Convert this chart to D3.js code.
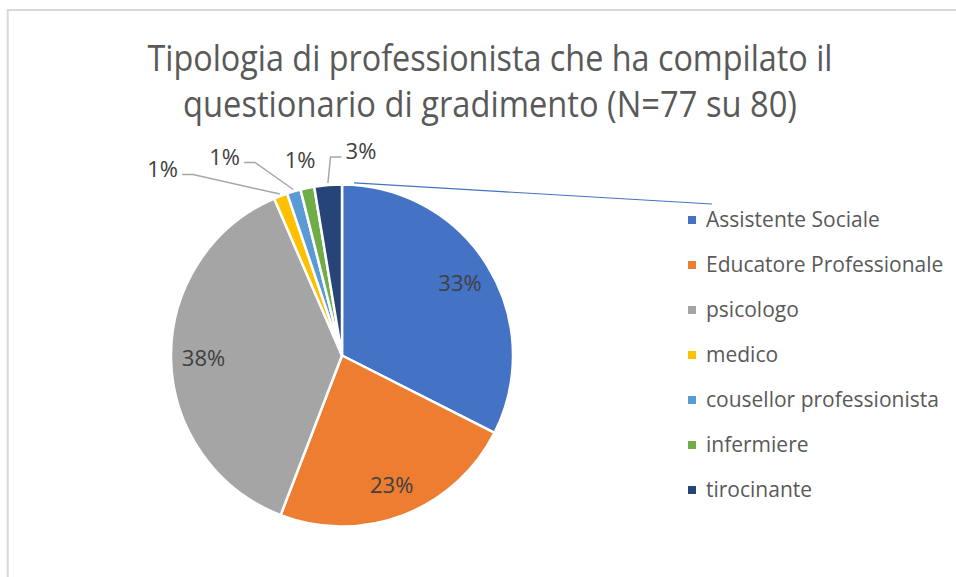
<!DOCTYPE html>
<html>
<head>
<meta charset="utf-8">
<script src="https://cdn.jsdelivr.net/npm/d3@7"></script>
<style>
  body { margin: 0; background: #fff; }
  text { font-family: "Open Sans", sans-serif; }
</style>
</head>
<body>
<svg id="chart" width="956" height="577"></svg>
<script>
// data
const titleLines = ['Tipologia di professionista che ha compilato il', 'questionario di gradimento (N=77 su 80)']
const categories = ['Assistente Sociale', 'Educatore Professionale', 'psicologo', 'medico', 'cousellor professionista', 'infermiere', 'tirocinante']
const counts = [25, 18, 29, 1, 1, 1, 2]
const pctLabels = ['33%', '23%', '38%', '1%', '1%', '1%', '3%']
const colors = ['#4472c4', '#ed7d31', '#a5a5a5', '#ffc000', '#5b9bd5', '#70ad47', '#264478']

const svg = d3.select('#chart'),
    width = +svg.attr('width'),
    height = +svg.attr('height');

// chart frame
svg.append('rect')
    .attr('x', 7.7).attr('y', 10)
    .attr('width', width + 20).attr('height', height + 20)
    .attr('fill', 'none').attr('stroke', '#d9d9d9').attr('stroke-width', 2)

// title (squeezed horizontally to the reference widths)
const titleWidths = [685, 614]
svg.append('g').selectAll('text')
    .data(titleLines)
    .enter().append('text')
      .attr('x', 490)
      .attr('y', (d, i) => 71 + i * 46)
      .attr('text-anchor', 'middle')
      .attr('font-size', 37)
      .attr('fill', '#595959')
      .attr('textLength', (d, i) => titleWidths[i])
      .attr('lengthAdjust', 'spacingAndGlyphs')
      .text(d => d)

const cx = 342, cy = 355.5, r = 171

const pie = d3.pie().sort(null).value(d => d)
const arcs = pie(counts)
const arc = d3.arc().innerRadius(0).outerRadius(r)
const inner = d3.arc().innerRadius(r * 0.81).outerRadius(r * 0.81)
const rim = d3.arc().innerRadius(r + 2).outerRadius(r + 2)

const g = svg.append('g').attr('transform', `translate(${cx},${cy})`)

g.selectAll('path.slice')
    .data(arcs)
    .enter().append('path')
      .attr('class', 'slice')
      .attr('d', arc)
      .attr('fill', (d, i) => colors[i])
      .attr('stroke', '#fff')
      .attr('stroke-width', 2.5)
      .attr('stroke-linejoin', 'round')

// stray leader line from the top of the pie toward the legend
g.append('line')
    .attr('x1', rim.centroid({startAngle: 0.07, endAngle: 0.07})[0])
    .attr('y1', rim.centroid({startAngle: 0.07, endAngle: 0.07})[1])
    .attr('x2', 370).attr('y2', -151.5)
    .attr('stroke', '#4472c4').attr('stroke-width', 1.2)

// labels inside the big slices, outside (with leaders) for the small ones
const outside = {3: [-179.5, -186.5], 4: [-117.5, -198.5], 5: [-42, -195.5], 6: [19, -204]}

arcs.forEach((d, i) => {
  let pos = outside[i] || inner.centroid(d)
  if (outside[i]) {
    const a = rim.centroid(d)
    const dist = Math.hypot(a[0] - pos[0], a[1] - pos[1])
    if (dist > 35) {
      const side = pos[0] < a[0] ? 1 : -1
      g.append('polyline')
        .attr('points', [a, [pos[0] + side * 30.5, pos[1] + 5.5], [pos[0] + side * 19.5, pos[1] + 5.5]].map(p => p.join(',')).join(' '))
        .attr('fill', 'none')
        .attr('stroke', '#a6a6a6')
        .attr('stroke-width', 1.5)
    }
  }
  g.append('text')
    .attr('x', pos[0])
    .attr('y', pos[1])
    .attr('dy', '0.36em')
    .attr('text-anchor', 'middle')
    .attr('font-size', 22)
    .attr('fill', '#404040')
    .text(pctLabels[i])
})

// legend
const legend = svg.append('g').attr('transform', 'translate(688,226.5)')
const item = legend.selectAll('g')
    .data(categories)
    .enter().append('g')
      .attr('transform', (d, i) => `translate(0,${i * 45})`)

item.append('rect')
    .attr('x', 0).attr('y', -10.5)
    .attr('width', 8).attr('height', 8)
    .attr('fill', (d, i) => colors[i])

item.append('text')
    .attr('x', 18)
    .attr('font-size', 21)
    .attr('fill', '#595959')
    .text(d => d)
</script>
</body>
</html>
